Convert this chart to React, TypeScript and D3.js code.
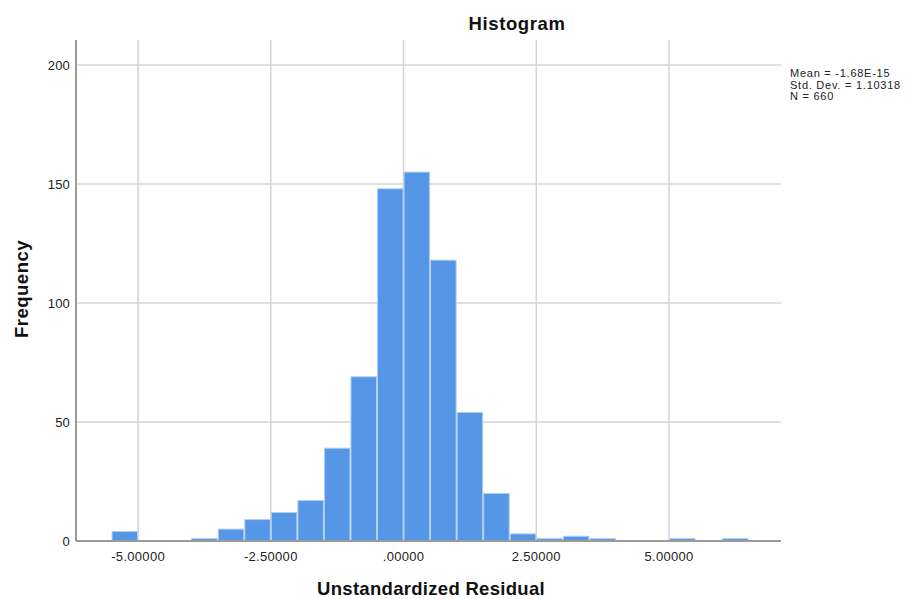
import React from "react";
import * as d3 from "d3";

const binStarts = [-5.5, -5, -4.5, -4, -3.5, -3, -2.5, -2, -1.5, -1, -0.5, 0, 0.5, 1, 1.5, 2, 2.5, 3, 3.5, 4, 4.5, 5, 5.5, 6];
const counts = [4, 0, 0, 1, 5, 9, 12, 17, 39, 69, 148, 155, 118, 54, 20, 3, 1, 2, 1, 0, 0, 1, 0, 1];
const binWidth = 0.5;
const xTicks = [-5, -2.5, 0, 2.5, 5];
const xTickLabels = ["-5.00000", "-2.50000", ".00000", "2.50000", "5.00000"];
const yTicks = [0, 50, 100, 150, 200];
const statsLines = ["Mean = -1.68E-15", "Std. Dev. = 1.10318", "N = 660"];

const W = 911;
const H = 599;
const left = 76;
const right = 781;
const top = 40;
const bottom = 541;

export default function App() {
  const x = d3.scaleLinear().domain([-6.17, 7.11]).range([left, right]);
  const y = d3.scaleLinear().domain([0, 210.5]).range([bottom, top]);
  const font = "'Liberation Sans', Arial, sans-serif";
  const grid = "#d4d4d4";
  return (
    <div style={{ position: "absolute", left: 0, top: 0 }}>
      <svg width={W} height={H} style={{ display: "block", background: "#fff" }} fontFamily={font}>
        {yTicks.filter((t) => t > 0).map((t) => (
          <line key={"gy" + t} x1={left} x2={right} y1={y(t)} y2={y(t)} stroke={grid} strokeWidth={1.5} />
        ))}
        {xTicks.map((t) => (
          <line key={"gx" + t} x1={x(t)} x2={x(t)} y1={top} y2={bottom} stroke={grid} strokeWidth={1.5} />
        ))}
        {counts.map((c, i) =>
          c > 0 ? (
            <rect
              key={"b" + i}
              x={x(binStarts[i]) + 0.5}
              y={y(c)}
              width={x(binStarts[i] + binWidth) - x(binStarts[i]) - 1}
              height={y(0) - y(c)}
              fill="#5596e6"
              stroke="#b3cff2"
              strokeWidth={1}
            />
          ) : null
        )}
        <line x1={left} x2={left} y1={top} y2={bottom} stroke="#9a9a9a" strokeWidth={2} />
        <line x1={left} x2={right} y1={bottom} y2={bottom} stroke="#9a9a9a" strokeWidth={2} />
        {yTicks.map((t) => (
          <text key={"yl" + t} x={70} y={y(t) + 5} textAnchor="end" fontSize={13} letterSpacing={0.2} fill="#222">
            {t}
          </text>
        ))}
        {xTicks.map((t, i) => (
          <text key={"xl" + t} x={x(t)} y={561} textAnchor="middle" fontSize={13} letterSpacing={0.3} fill="#222">
            {xTickLabels[i]}
          </text>
        ))}
        <text x={517} y={30} textAnchor="middle" fontSize={18.5} letterSpacing={0.6} fontWeight="bold" fill="#111">
          Histogram
        </text>
        <text x={431} y={595} textAnchor="middle" fontSize={18.5} letterSpacing={0.3} fontWeight="bold" fill="#111">
          Unstandardized Residual
        </text>
        <text
          transform={`translate(28,289) rotate(-90)`}
          textAnchor="middle"
          fontSize={18.5}
          letterSpacing={0.5}
          fontWeight="bold"
          fill="#111"
        >
          Frequency
        </text>
        {statsLines.map((s, i) => (
          <text key={"s" + i} x={790} y={77 + i * 11.5} fontSize={11} letterSpacing={0.75} fill="#222">
            {s}
          </text>
        ))}
      </svg>
    </div>
  );
}
